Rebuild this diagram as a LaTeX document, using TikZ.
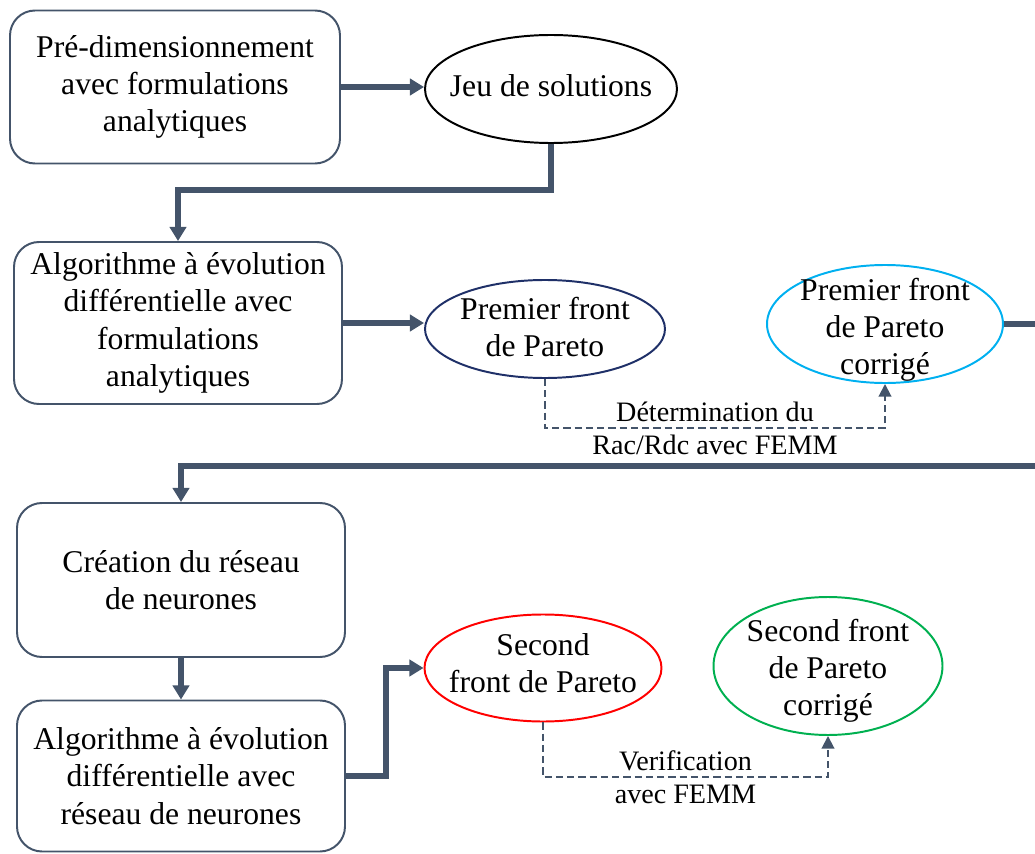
\documentclass[tikz,border=0pt]{standalone}
\usepackage{fontspec}
\setmainfont{Liberation Serif}
\usetikzlibrary{shapes.geometric,arrows.meta,calc}
\newlength\pxu
\setlength\pxu{0.025cm}
\definecolor{slate}{HTML}{44546A}
\definecolor{navy}{HTML}{1F3068}
\definecolor{cyanb}{HTML}{00B0F0}
\definecolor{redb}{HTML}{FF0000}
\definecolor{greenb}{HTML}{00B050}
\tikzset{
  boxnode/.style={draw=slate, line width=1.4pt, rounded corners=25\pxu, align=center, inner sep=0pt,
    font=\fontsize{22.5}{26.5}\selectfont},
  ellnode/.style={ellipse, line width=1.4pt, inner sep=0pt},
  etext/.style={align=center, inner sep=0pt, font=\fontsize{22.5}{26.5}\selectfont},
  flow/.style={draw=slate, line width=3.9pt, -{Triangle[length=10pt,width=11.5pt]}},
  flowplain/.style={draw=slate, line width=3.9pt},
  dashlink/.style={draw=slate, line width=1.4pt, dash pattern=on 5pt off 3pt, -{Triangle[length=9pt,width=9pt]}},
  lbl/.style={align=center, inner sep=0pt, font=\fontsize{20}{23.5}\selectfont}
}
\begin{document}
\begin{tikzpicture}[x=0.025cm, y=-0.025cm]
\useasboundingbox (0,0) rectangle (1035,854);

\node[boxnode, minimum width=330\pxu, minimum height=153\pxu] (b1) at (175,87)
  {Pré-dimensionnement\\avec formulations\\analytiques};
\node[ellnode, draw=black, minimum width=252\pxu, minimum height=108\pxu,
  label={[etext, yshift=3\pxu]center:Jeu de solutions}] (e1) at (551,89) {};

\node[boxnode, minimum width=328\pxu, minimum height=162\pxu] (b2) at (178,323)
  {Algorithme à évolution\\différentielle avec\\formulations\\analytiques};
\node[ellnode, draw=navy, minimum width=240\pxu, minimum height=98\pxu,
  label={[etext, yshift=2\pxu]center:Premier front\\de Pareto}] (e2) at (545,329) {};
\node[ellnode, draw=cyanb, minimum width=236\pxu, minimum height=118\pxu,
  label={[etext, yshift=-6\pxu]center:Premier front\\de Pareto\\corrigé}] (e3) at (885,324) {};

\node[boxnode, minimum width=328\pxu, minimum height=154\pxu] (b3) at (181,580)
  {Création du réseau\\de neurones};
\node[boxnode, minimum width=328\pxu, minimum height=151\pxu] (b4) at (181,776)
  {Algorithme à évolution\\différentielle avec\\réseau de neurones};
\node[ellnode, draw=redb, minimum width=237\pxu, minimum height=107\pxu,
  label={[etext, yshift=5\pxu]center:Second\\front de Pareto}] (e4) at (543,668) {};
\node[ellnode, draw=greenb, minimum width=229\pxu, minimum height=138\pxu,
  label={[etext, yshift=-5\pxu]center:Second front\\de Pareto\\corrigé}] (e5) at (828,666) {};

\coordinate (k1) at (178,190);
\coordinate (k2) at (1035,322);
\coordinate (k3) at (1035,466);
\coordinate (k4) at (545,428);
\coordinate (k6) at (543,777);

% solid flows
\draw[flow] (b1.east) -- (b1.east -| e1.west);
\draw[flow] (e1.south) |- (k1) -- (b2.north);
\draw[flow] (b2.east) -- (b2.east -| e2.west);
\draw[flowplain] (e3.east) -- (e3.east -| k2);
\draw[flow] (k3) -| (b3.north);
\draw[flow] (b3.south) -- (b4.north);
\draw[flow] (b4.east) -- ++(40,0) |- (e4.west);

% dashed links
\draw[dashlink] (e2.south) -- (k4) -| (e3.south)
  node[lbl, pos=0.25] {Détermination du\\Rac/Rdc avec FEMM};
\draw[dashlink] (e4.south) -- (k6) -| (e5.south)
  node[lbl, pos=0.25] {Verification\\avec FEMM};
\end{tikzpicture}
\end{document}
